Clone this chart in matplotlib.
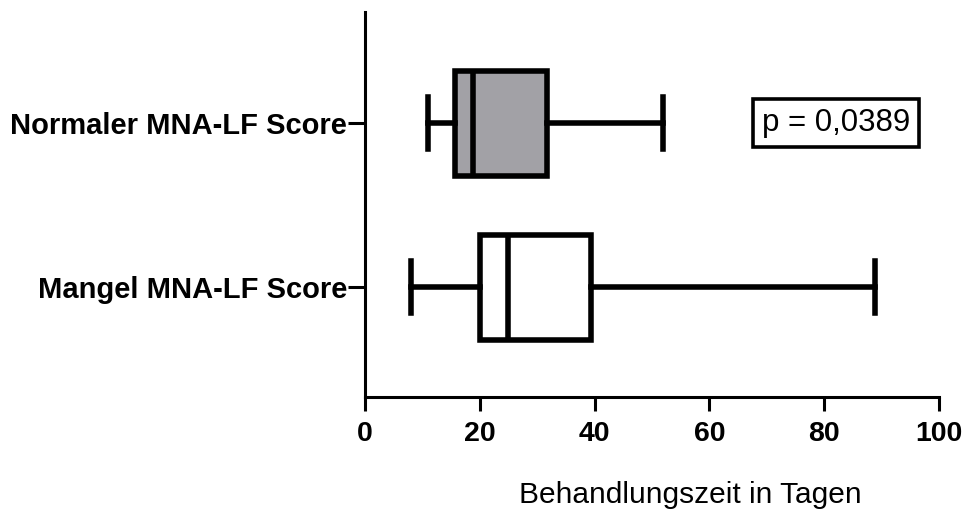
import matplotlib
matplotlib.use("Agg")
import matplotlib.pyplot as plt

categories = ["Mangel MNA-LF Score", "Normaler MNA-LF Score"]
whislo = [8.0, 11.0]
q1 = [20.0, 15.7]
med = [25.0, 18.9]
q3 = [39.3, 31.8]
whishi = [88.8, 52.0]
fills = ["white", "#a2a1a6"]
p_text = "p = 0,0389"
x_ticks = [0, 20, 40, 60, 80, 100]
x_label = "Behandlungszeit in Tagen"

plt.rcParams['font.family'] = ['Liberation Sans', 'DejaVu Sans']

fig = plt.figure(figsize=(9.66, 5.09), dpi=100)
ax = fig.add_axes([0.3778, 0.22, 0.5942, 0.7564])

stats = []
for i in range(len(categories)):
    stats.append(dict(whislo=whislo[i], q1=q1[i], med=med[i], q3=q3[i],
                      whishi=whishi[i], fliers=[], label=categories[i]))

lw = 4.0
bp = ax.bxp(stats, positions=list(range(len(categories))), vert=False,
            widths=0.64, patch_artist=True, showfliers=False,
            boxprops=dict(linewidth=lw, edgecolor="black"),
            medianprops=dict(linewidth=lw, color="black"),
            whiskerprops=dict(linewidth=lw, color="black"),
            capprops=dict(linewidth=lw, color="black"),
            capwidths=0.32, manage_ticks=False)
for patch, c in zip(bp['boxes'], fills):
    patch.set_facecolor(c)
    patch.set_joinstyle('miter')

ax.set_xlim(0, 100)
ax.set_ylim(-0.67, 1.677)
ax.set_xticks(x_ticks)
ax.set_xticklabels([str(t) for t in x_ticks], fontsize=20.5, fontweight='bold')
ax.set_yticks(range(len(categories)))
ax.set_yticklabels(categories, fontsize=21, fontweight='bold')

for s in ['top', 'right']:
    ax.spines[s].set_visible(False)
for s in ['left', 'bottom']:
    ax.spines[s].set_linewidth(2.2)
ax.tick_params(axis='x', length=10, width=2.2, pad=7)
ax.tick_params(axis='y', length=12, width=2.2, pad=1)

ax.set_xlabel(x_label, fontsize=21.5)
ax.xaxis.label.set_va('baseline')
ax.xaxis.set_label_coords(0.567, -0.275)

ax.text(82.1, 1, p_text, fontsize=22.5, ha='center', va='center',
        bbox=dict(boxstyle='square,pad=0.28', facecolor='white',
                  edgecolor='black', linewidth=2.6))

fig.savefig("out.png", dpi=100)
